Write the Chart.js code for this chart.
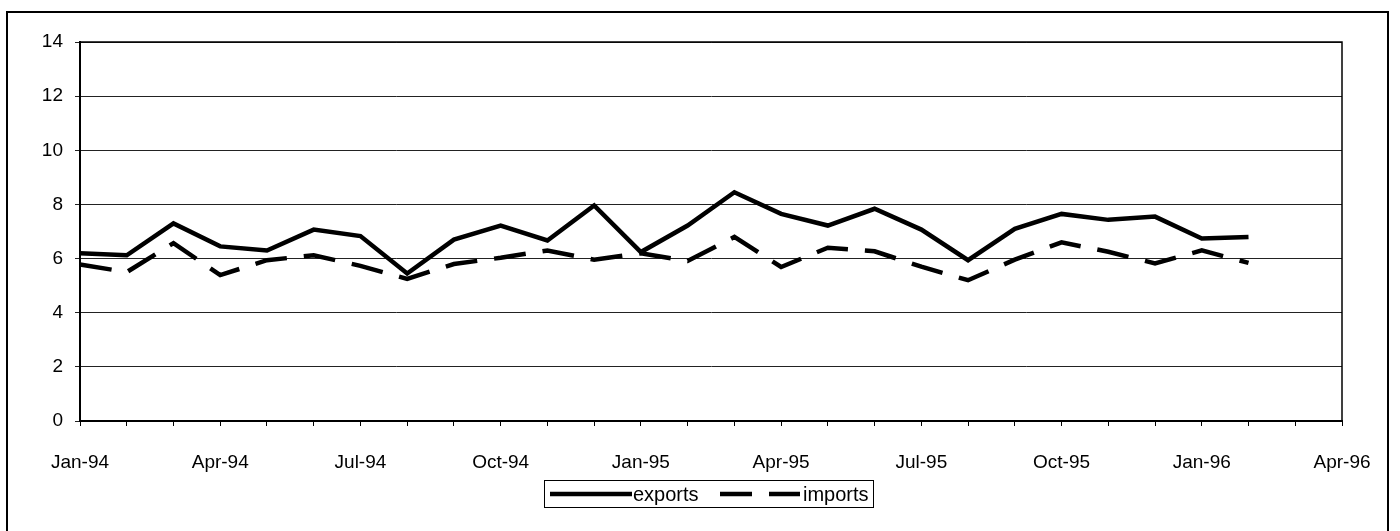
<!DOCTYPE html>
<html>
<head>
<meta charset="utf-8">
<script src="https://cdn.jsdelivr.net/npm/chart.js@4.4.1/dist/chart.umd.min.js"></script>
<style>
  html, body { margin: 0; padding: 0; background: #fff; }
  #wrap { width: 1400px; height: 531px; }
</style>
</head>
<body>
<div id="wrap"><canvas id="tradeChart" width="1400" height="531"></canvas></div>
<script>
// month categories, Jan-94 .. Apr-96 (axis runs to Apr-96, data stops at Feb-96)
const months = [
  'Jan-94', 'Feb-94', 'Mar-94', 'Apr-94', 'May-94', 'Jun-94', 'Jul-94', 'Aug-94', 'Sep-94', 'Oct-94', 'Nov-94', 'Dec-94',
  'Jan-95', 'Feb-95', 'Mar-95', 'Apr-95', 'May-95', 'Jun-95', 'Jul-95', 'Aug-95', 'Sep-95', 'Oct-95', 'Nov-95', 'Dec-95',
  'Jan-96', 'Feb-96', 'Mar-96', 'Apr-96',
];

const exportsData = [
  6.2, 6.12, 7.3, 6.45, 6.3, 7.07, 6.83, 5.45, 6.7, 7.22, 6.67, 7.96,
  6.24, 7.22, 8.45, 7.65, 7.22, 7.84, 7.07, 5.94, 7.1, 7.65, 7.43, 7.55,
  6.74, 6.8,
];

const importsData = [
  5.78, 5.5, 6.57, 5.39, 5.94, 6.12, 5.73, 5.25, 5.8, 6.03, 6.3, 5.96,
  6.2, 5.91, 6.8, 5.69, 6.4, 6.27, 5.7, 5.2, 5.96, 6.6, 6.25, 5.82,
  6.3, 5.84,
];

const yTicks = { min: 0, max: 14, step: 2 };

const FONT = 'Arial, "Liberation Sans", sans-serif';

const framePlugin = {
  id: 'frame',
  beforeDraw(chart) {
    const ctx = chart.ctx;
    ctx.save();
    ctx.fillStyle = '#fff';
    ctx.fillRect(0, 0, chart.width, chart.height);
    ctx.strokeStyle = '#000';
    ctx.lineWidth = 2;
    ctx.strokeRect(7, 12, 1381, 540);
    ctx.restore();
  },
  afterDraw(chart) {
    const ctx = chart.ctx;
    const a = chart.chartArea;
    ctx.save();
    ctx.strokeStyle = '#000';
    ctx.lineWidth = 1.5;
    ctx.strokeRect(a.left, a.top, a.right - a.left, a.bottom - a.top);

    // legend box
    const bx = 544.5, by = 480.5, bw = 329, bh = 27;
    ctx.lineWidth = 1;
    ctx.strokeRect(bx, by, bw, bh);
    const cy = by + bh / 2;
    const items = [
      { ds: chart.data.datasets[0], x0: 550, x1: 632, tx: 633 },
      { ds: chart.data.datasets[1], x0: 720, x1: 800, tx: 803 },
    ];
    ctx.font = '20px ' + FONT;
    ctx.textBaseline = 'middle';
    ctx.fillStyle = '#000';
    items.forEach((it) => {
      ctx.beginPath();
      ctx.lineWidth = it.ds.borderWidth;
      ctx.setLineDash(it.ds.borderDash || []);
      ctx.moveTo(it.x0, cy);
      ctx.lineTo(it.x1, cy);
      ctx.stroke();
      ctx.setLineDash([]);
      ctx.fillText(it.ds.label, it.tx, cy + 1);
    });
    ctx.restore();
  },
};

new Chart(document.getElementById('tradeChart'), {
  type: 'line',
  data: {
    labels: months,
    datasets: [
      {
        label: 'exports',
        data: exportsData,
        borderColor: '#000',
        borderWidth: 4.5,
        pointRadius: 0,
        tension: 0,
        fill: false,
      },
      {
        label: 'imports',
        data: importsData,
        borderColor: '#000',
        borderWidth: 4.5,
        borderDash: [32, 17],
        pointRadius: 0,
        tension: 0,
        fill: false,
      },
    ],
  },
  options: {
    responsive: false,
    animation: false,
    devicePixelRatio: 1,
    layout: { padding: { top: 42, right: 58, left: 0, bottom: 0 } },
    plugins: {
      legend: { display: false },
      tooltip: { enabled: false },
    },
    scales: {
      x: {
        offset: false,
        ticks: {
          autoSkip: false,
          maxRotation: 0,
          color: '#000',
          font: { family: FONT, size: 19 },
          padding: 25,
          callback: (v, i) => (i % 3 === 0 ? months[i] : ''),
        },
        grid: { drawOnChartArea: false, tickLength: 5, color: '#000' },
        border: { color: '#000', width: 2 },
        afterFit: (s) => { s.height = 110; },
      },
      y: {
        min: yTicks.min,
        max: yTicks.max,
        ticks: {
          stepSize: yTicks.step,
          color: '#000',
          font: { family: FONT, size: 19 },
          padding: 12,
        },
        grid: { color: '#222', lineWidth: 1, tickLength: 5 },
        border: { color: '#000', width: 2 },
        afterFit: (s) => { s.width = 80; },
      },
    },
  },
  plugins: [framePlugin],
});
</script>
</body>
</html>
